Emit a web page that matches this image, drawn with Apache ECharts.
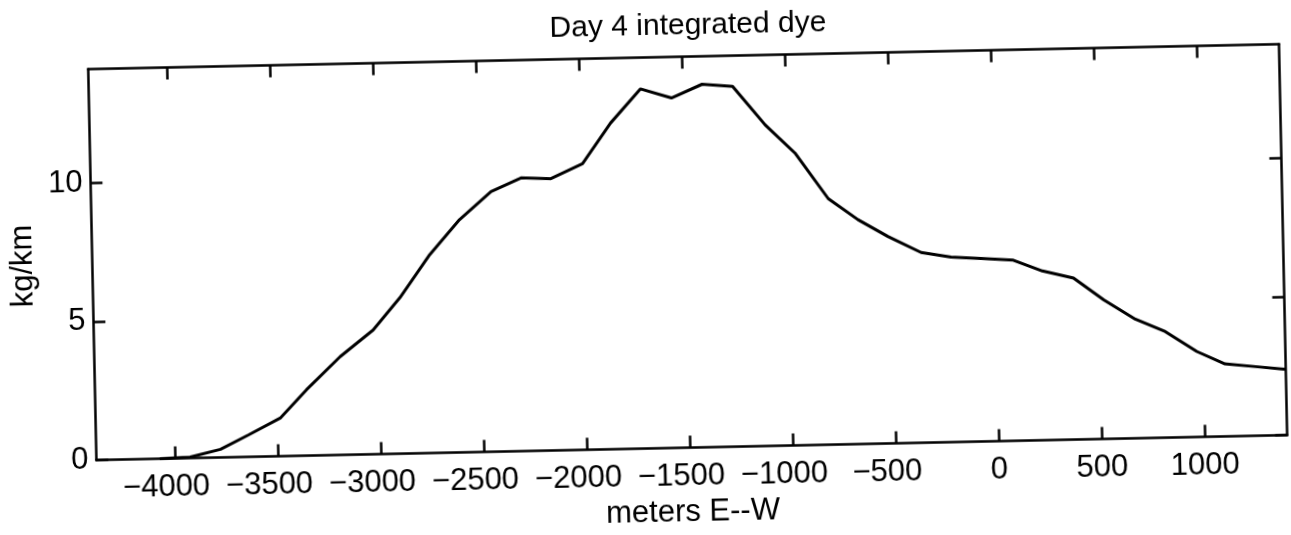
<!DOCTYPE html>
<html>
<head>
<meta charset="utf-8">
<script src="https://cdn.jsdelivr.net/npm/echarts@6/dist/echarts.min.js"></script>
<style>
  html, body { margin: 0; padding: 0; background: #ffffff; overflow: hidden; }
  #chart { width: 1291px; height: 535px; transform: rotate(-1.2deg); transform-origin: 50% 50%; }
</style>
</head>
<body>
<div id="chart"></div>
<script>
// Data
const titleText = 'Day 4 integrated dye';
const xName = 'meters E--W';
const yName = 'kg/km';
const xTicks = [-4000, -3500, -3000, -2500, -2000, -1500, -1000, -500, 0, 500, 1000];
const yTicks = [0, 5, 10];
const xs = [-4074, -3926, -3778, -3640, -3485, -3355, -3188, -3025, -2892, -2743, -2595, -2439, -2292, -2147, -1992, -1852, -1703, -1554, -1404, -1256, -1102, -960, -803, -661, -517, -358, -213, -68, 85, 229, 379, 524, 675, 819, 970, 1106, 1254, 1400];
const ys = [0, 0.03, 0.29, 0.79, 1.37, 2.37, 3.54, 4.48, 5.62, 7.15, 8.39, 9.38, 9.85, 9.80, 10.32, 11.76, 12.97, 12.62, 13.09, 12.99, 11.58, 10.54, 8.87, 8.09, 7.46, 6.86, 6.67, 6.60, 6.52, 6.10, 5.82, 5.01, 4.29, 3.82, 3.08, 2.61, 2.49, 2.37];

const FONT = '"Liberation Sans", Arial, Helvetica, sans-serif';
const FS = 31;
const chart = echarts.init(document.getElementById('chart'), null, { renderer: 'canvas' });

const axisLineStyle = { show: true, onZero: false, lineStyle: { color: '#000', width: 2.5 } };
const tickStyle = { show: true, inside: true, length: 12, lineStyle: { color: '#000', width: 2.5 } };

const option = {
  animation: false,
  backgroundColor: '#ffffff',
  title: {
    text: titleText,
    left: 688,
    top: 7,
    textAlign: 'center',
    textStyle: { fontFamily: FONT, fontSize: 30, fontWeight: 'normal', color: '#000' }
  },
  grid: { left: 88, right: 7.5, top: 57.5, bottom: 86.6, containLabel: false },
  xAxis: [
    {
      type: 'value', position: 'bottom', min: -4382, max: 1400,
      name: xName, nameLocation: 'middle', nameGap: 50,
      nameTextStyle: { fontFamily: FONT, fontSize: FS, color: '#000' },
      axisLine: axisLineStyle,
      axisTick: Object.assign({ customValues: xTicks }, tickStyle),
      splitLine: { show: false },
      axisLabel: {
        customValues: xTicks, margin: 14,
        fontFamily: FONT, fontSize: FS, color: '#000',
        formatter: function (v) {
          if (v < 0) return '{t|\u2212' + Math.abs(v) + '}{s| }';
          return '{t|' + v + '}';
        },
        rich: {
          t: { fontFamily: FONT, fontSize: FS, color: '#000' },
          s: { fontFamily: FONT, fontSize: FS, width: 18 }
        }
      }
    },
    {
      type: 'value', position: 'top', min: -4382, max: 1400,
      axisLine: axisLineStyle,
      axisTick: Object.assign({ customValues: xTicks }, tickStyle),
      axisLabel: { show: false },
      splitLine: { show: false }
    }
  ],
  yAxis: [
    {
      type: 'value', position: 'left', min: 0, max: 14.1,
      name: yName, nameLocation: 'middle', nameGap: 47,
      nameTextStyle: { fontFamily: FONT, fontSize: FS, color: '#000' },
      axisLine: axisLineStyle,
      axisTick: Object.assign({ customValues: yTicks }, tickStyle),
      splitLine: { show: false },
      axisLabel: { customValues: yTicks, margin: 8, fontFamily: FONT, fontSize: FS, color: '#000' }
    },
    {
      type: 'value', position: 'right', min: 0, max: 14.1,
      axisLine: axisLineStyle,
      axisTick: Object.assign({ customValues: yTicks }, tickStyle),
      axisLabel: { show: false },
      splitLine: { show: false }
    }
  ],
  series: [
    {
      type: 'line',
      xAxisIndex: 0, yAxisIndex: 0,
      data: xs.map(function (x, i) { return [x, ys[i]]; }),
      showSymbol: false,
      lineStyle: { color: '#000', width: 3 },
      clip: true
    }
  ]
};
chart.setOption(option);
</script>
</body>
</html>
